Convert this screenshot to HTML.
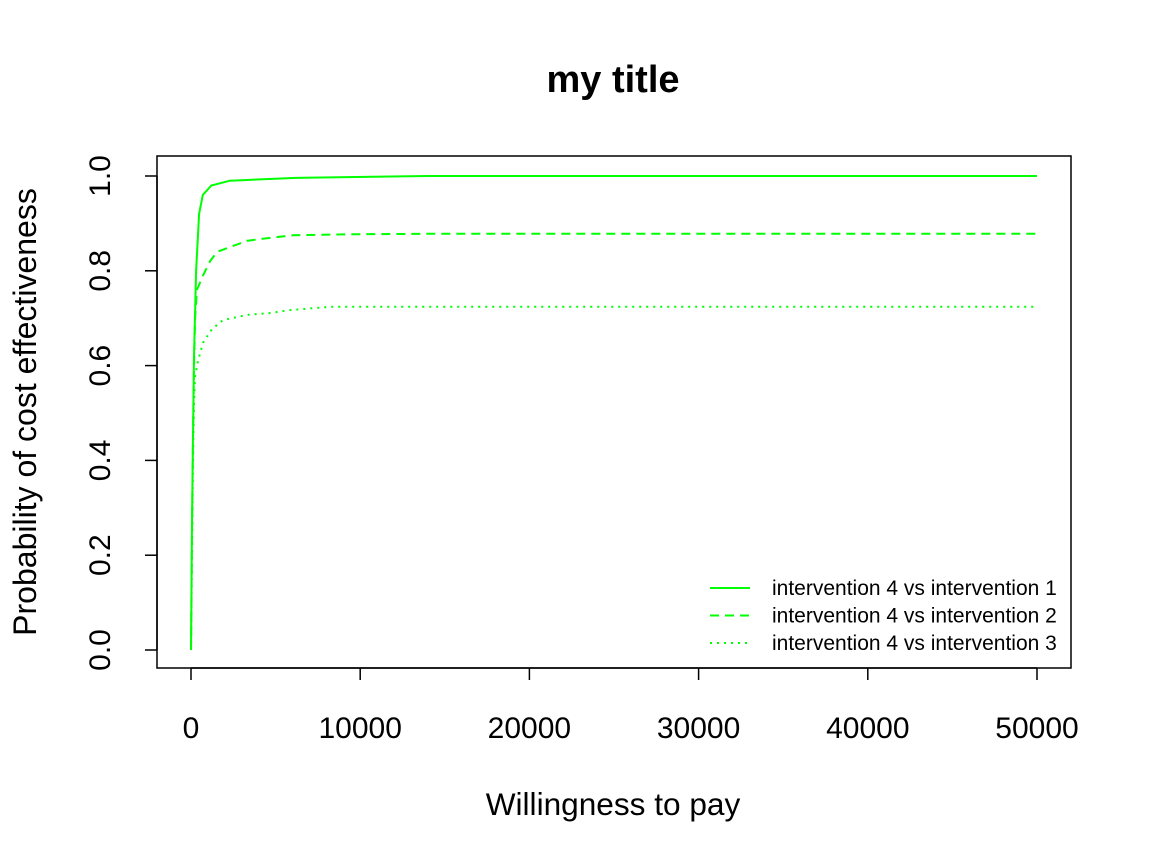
<!DOCTYPE html>
<html><head><meta charset="utf-8"><style>body{margin:0;background:#fff}svg{display:block}text{font-family:"Liberation Sans",Arial,sans-serif;fill:#000}</style></head>
<body>
<svg id="chart" width="1152" height="865" viewBox="0 0 1152 865" xmlns="http://www.w3.org/2000/svg">
<rect width="1152" height="865" fill="#fff"/>
<text x="613" y="92" text-anchor="middle" font-size="38" font-weight="bold">my title</text>
<rect x="157" y="156" width="914" height="512" fill="none" stroke="#000" stroke-width="1.5"/>
<g id="xaxis"></g>
<g id="yaxis"></g>
<text x="613" y="815" text-anchor="middle" font-size="31.6">Willingness to pay</text>
<text transform="translate(36,412) rotate(-90)" text-anchor="middle" font-size="32">Probability of cost effectiveness</text>
<g id="series"></g>
<g id="legend"></g>
</svg>
<script>
const xTicks=[0,10000,20000,30000,40000,50000];
const yTicks=[0,0.2,0.4,0.6,0.8,1.0];
const yTickLabels=["0.0","0.2","0.4","0.6","0.8","1.0"];
const seriesNames=["intervention 4 vs intervention 1","intervention 4 vs intervention 2","intervention 4 vs intervention 3"];
const wtp1=[0,60,120,180,300,480,700,1200,2300,6200,14000,50000];
const prob1=[0,0.27,0.45,0.62,0.80,0.92,0.96,0.98,0.99,0.996,1.0,1.0];
const wtp2=[0,60,120,180,240,355,710,1120,1540,2300,3300,4080,6030,9220,14000,50000];
const prob2=[0,0.25,0.45,0.6,0.7,0.76,0.79,0.82,0.84,0.85,0.863,0.867,0.875,0.877,0.878,0.878];
const wtp3=[0,60,120,180,236,414,710,1240,1890,3310,4670,5850,7210,8215,50000];
const prob3=[0,0.2,0.4,0.52,0.576,0.61,0.648,0.677,0.696,0.707,0.711,0.717,0.721,0.724,0.724];
const dashes=["","9,6","2,5"];
const NS="http://www.w3.org/2000/svg";
const sx=v=>191+v*(1037-191)/50000;
const sy=v=>650-v*474;
function mk(t,a,p){const e=document.createElementNS(NS,t);for(const k in a)e.setAttribute(k,a[k]);p.appendChild(e);return e;}
const xa=document.getElementById('xaxis');
mk('line',{x1:sx(0),x2:sx(50000),y1:668,y2:668,stroke:'#000','stroke-width':1.5},xa);
xTicks.forEach(t=>{
 const l=mk('line',{x1:sx(t),x2:sx(t),y1:668,y2:680,stroke:'#000','stroke-width':1.5},xa);
 
 
 const tx=mk('text',{x:sx(t),y:738,'text-anchor':'middle','font-size':30},xa);
 tx.textContent=String(t);
 
 
});
const ya=document.getElementById('yaxis');
mk('line',{x1:157,x2:157,y1:sy(0),y2:sy(1),stroke:'#000','stroke-width':1.5},ya);
yTicks.forEach((t,i)=>{
 const l=mk('line',{x1:145,x2:157,y1:sy(t),y2:sy(t),stroke:'#000','stroke-width':1.5},ya);
 
 
 const tx=mk('text',{transform:`translate(110,${sy(t)}) rotate(-90)`,'text-anchor':'middle','font-size':30},ya);
 tx.textContent=yTickLabels[i];
 
 
});
const sg=document.getElementById('series');
[[wtp1,prob1],[wtp2,prob2],[wtp3,prob3]].forEach((d,i)=>{
 const pts=d[0].map((w,j)=>sx(w).toFixed(1)+','+sy(d[1][j]).toFixed(1)).join(' ');
 const pl=mk('polyline',{points:pts,fill:'none',stroke:'#00ff00','stroke-width':2,'stroke-dasharray':dashes[i]||'none'},sg);
 
 
});
const lg=document.getElementById('legend');
seriesNames.forEach((n,i)=>{
 const y=588+i*27.5;
 const l=mk('line',{x1:710,x2:750,y1:y,y2:y,stroke:'#00ff00','stroke-width':2,'stroke-dasharray':dashes[i]||'none'},lg);
 
 
 const t=mk('text',{x:772,y:y+7,'font-size':21},lg);
 t.textContent=n;
 
 
});
</script>
</body></html>
